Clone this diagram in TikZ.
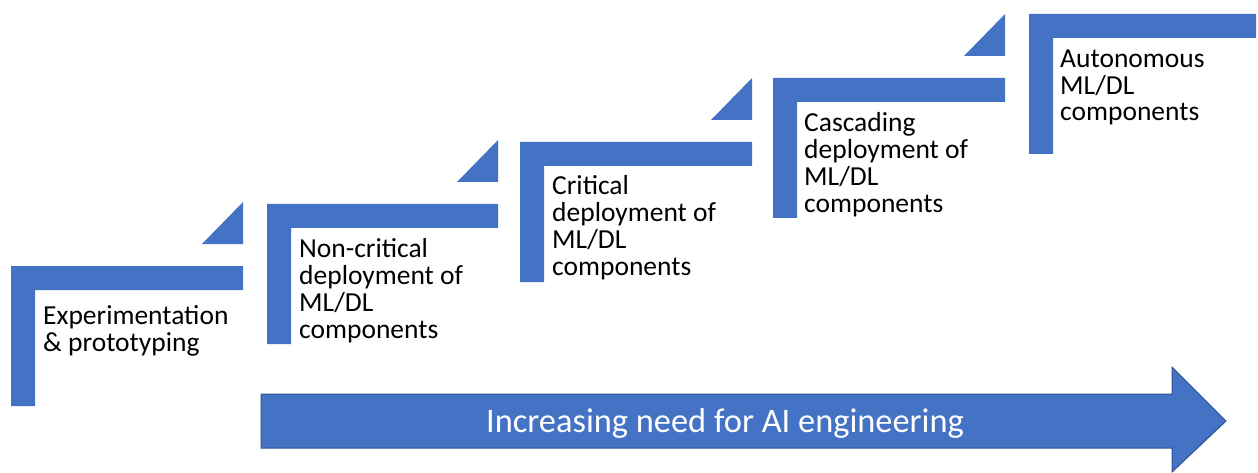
\documentclass[tikz,border=0pt]{standalone}
\usepackage{fontspec}
\setmainfont{Carlito}
\definecolor{stepblue}{HTML}{4472C4}
\definecolor{edgeblue}{HTML}{2F528F}
\tikzset{
  stepfill/.style={fill=stepblue, draw=none},
  steptext/.style={anchor=base west, inner sep=0pt, align=left, text=black,
    font=\fontsize{27.5}{26.7}\selectfont},
  arrowtext/.style={anchor=base, inner sep=0pt, text=white,
    font=\fontsize{34.4}{36}\selectfont}
}
\begin{document}
\begin{tikzpicture}[x=1pt,y=-1pt]
\useasboundingbox (0,0) rectangle (1258,473);
% L-shaped steps: left x, top y, right end
\foreach \lx/\ty/\rx in {11/266/243, 267/204/498, 520/142/752, 773/78/1005, 1029/14/1256}{
  \fill[stepfill] (\lx,\ty) -- (\rx,\ty) -- (\rx,\ty+24) -- (\lx+24,\ty+24)
     -- (\lx+24,\ty+140) -- (\lx,\ty+140) -- cycle;
}
% small triangles
\foreach \rx/\by in {243/244, 498/182, 752/120, 1005/56}{
  \fill[stepfill] (\rx,\by) -- (\rx,\by-42) -- (\rx-41,\by) -- cycle;
}
% texts (anchor = baseline of last line)
\node[steptext] (s1) at (43,351) {Experimentation\\\& prototyping};
\node[steptext] (s2) at (299,338) {Non-critical\\deployment of\\ML/DL\\components};
\node[steptext] (s3) at (552,275) {Critical\\deployment of\\ML/DL\\components};
\node[steptext] (s4) at (804,212) {Cascading\\deployment of\\ML/DL\\components};
\node[steptext] (s5) at (1060,121) {Autonomous\\ML/DL\\components};
% big arrow
\filldraw[fill=stepblue, draw=edgeblue, line width=1pt]
  (261,394) -- (1172,394) -- (1172,367) -- (1226,421) -- (1172,472)
  -- (1172,448) -- (261,448) -- cycle;
\node[arrowtext] (ai) at (725,432) {Increasing need for AI engineering};
\end{tikzpicture}
\end{document}
